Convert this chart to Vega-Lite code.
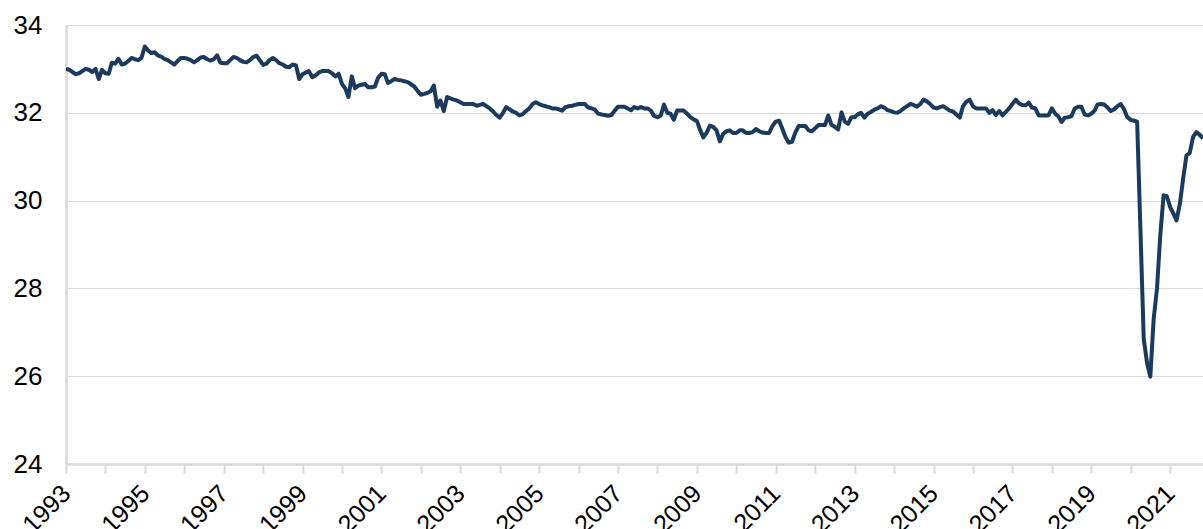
{
  "$schema": "https://vega.github.io/schema/vega-lite/v6.json",
  "autosize": {"type": "none"},
  "padding": {"left": 66, "top": 25, "right": 0, "bottom": 65},
  "width": 1137,
  "height": 439,
  "background": "white",
  "config": {"view": {"stroke": null}, "font": "Liberation Sans"},
  "data": {
    "format": {"parse": {"d": "date:'%Y-%m'"}},
    "values": [
      {"d":"1993-01","v":33.0},{"d":"1993-02","v":32.98},{"d":"1993-03","v":32.93},{"d":"1993-04","v":32.88},{"d":"1993-05","v":32.9},{"d":"1993-06","v":32.95},{"d":"1993-07","v":33.0},{"d":"1993-08","v":32.98},{"d":"1993-09","v":32.93},{"d":"1993-10","v":33.0},{"d":"1993-11","v":32.77},{"d":"1993-12","v":32.98},
      {"d":"1994-01","v":32.9},{"d":"1994-02","v":32.89},{"d":"1994-03","v":33.14},{"d":"1994-04","v":33.12},{"d":"1994-05","v":33.23},{"d":"1994-06","v":33.1},{"d":"1994-07","v":33.12},{"d":"1994-08","v":33.18},{"d":"1994-09","v":33.25},{"d":"1994-10","v":33.22},{"d":"1994-11","v":33.2},{"d":"1994-12","v":33.25},
      {"d":"1995-01","v":33.51},{"d":"1995-02","v":33.42},{"d":"1995-03","v":33.36},{"d":"1995-04","v":33.38},{"d":"1995-05","v":33.31},{"d":"1995-06","v":33.28},{"d":"1995-07","v":33.23},{"d":"1995-08","v":33.2},{"d":"1995-09","v":33.15},{"d":"1995-10","v":33.1},{"d":"1995-11","v":33.18},{"d":"1995-12","v":33.25},
      {"d":"1996-01","v":33.25},{"d":"1996-02","v":33.23},{"d":"1996-03","v":33.2},{"d":"1996-04","v":33.15},{"d":"1996-05","v":33.2},{"d":"1996-06","v":33.26},{"d":"1996-07","v":33.27},{"d":"1996-08","v":33.22},{"d":"1996-09","v":33.19},{"d":"1996-10","v":33.22},{"d":"1996-11","v":33.31},{"d":"1996-12","v":33.14},
      {"d":"1997-01","v":33.13},{"d":"1997-02","v":33.13},{"d":"1997-03","v":33.2},{"d":"1997-04","v":33.27},{"d":"1997-05","v":33.25},{"d":"1997-06","v":33.2},{"d":"1997-07","v":33.16},{"d":"1997-08","v":33.15},{"d":"1997-09","v":33.2},{"d":"1997-10","v":33.27},{"d":"1997-11","v":33.3},{"d":"1997-12","v":33.2},
      {"d":"1998-01","v":33.09},{"d":"1998-02","v":33.12},{"d":"1998-03","v":33.2},{"d":"1998-04","v":33.25},{"d":"1998-05","v":33.2},{"d":"1998-06","v":33.13},{"d":"1998-07","v":33.1},{"d":"1998-08","v":33.05},{"d":"1998-09","v":33.04},{"d":"1998-10","v":33.1},{"d":"1998-11","v":33.08},{"d":"1998-12","v":32.77},
      {"d":"1999-01","v":32.88},{"d":"1999-02","v":32.92},{"d":"1999-03","v":32.95},{"d":"1999-04","v":32.81},{"d":"1999-05","v":32.85},{"d":"1999-06","v":32.92},{"d":"1999-07","v":32.95},{"d":"1999-08","v":32.95},{"d":"1999-09","v":32.95},{"d":"1999-10","v":32.9},{"d":"1999-11","v":32.83},{"d":"1999-12","v":32.89},
      {"d":"2000-01","v":32.66},{"d":"2000-02","v":32.55},{"d":"2000-03","v":32.36},{"d":"2000-04","v":32.83},{"d":"2000-05","v":32.56},{"d":"2000-06","v":32.62},{"d":"2000-07","v":32.64},{"d":"2000-08","v":32.66},{"d":"2000-09","v":32.58},{"d":"2000-10","v":32.58},{"d":"2000-11","v":32.6},{"d":"2000-12","v":32.8},
      {"d":"2001-01","v":32.89},{"d":"2001-02","v":32.88},{"d":"2001-03","v":32.68},{"d":"2001-04","v":32.72},{"d":"2001-05","v":32.77},{"d":"2001-06","v":32.75},{"d":"2001-07","v":32.74},{"d":"2001-08","v":32.72},{"d":"2001-09","v":32.7},{"d":"2001-10","v":32.65},{"d":"2001-11","v":32.6},{"d":"2001-12","v":32.5},
      {"d":"2002-01","v":32.41},{"d":"2002-02","v":32.43},{"d":"2002-03","v":32.45},{"d":"2002-04","v":32.49},{"d":"2002-05","v":32.62},{"d":"2002-06","v":32.14},{"d":"2002-07","v":32.28},{"d":"2002-08","v":32.04},{"d":"2002-09","v":32.36},{"d":"2002-10","v":32.33},{"d":"2002-11","v":32.3},{"d":"2002-12","v":32.28},
      {"d":"2003-01","v":32.24},{"d":"2003-02","v":32.2},{"d":"2003-03","v":32.2},{"d":"2003-04","v":32.2},{"d":"2003-05","v":32.2},{"d":"2003-06","v":32.16},{"d":"2003-07","v":32.18},{"d":"2003-08","v":32.2},{"d":"2003-09","v":32.15},{"d":"2003-10","v":32.1},{"d":"2003-11","v":32.03},{"d":"2003-12","v":31.95},
      {"d":"2004-01","v":31.89},{"d":"2004-02","v":32.0},{"d":"2004-03","v":32.13},{"d":"2004-04","v":32.08},{"d":"2004-05","v":32.03},{"d":"2004-06","v":32.0},{"d":"2004-07","v":31.94},{"d":"2004-08","v":31.97},{"d":"2004-09","v":32.04},{"d":"2004-10","v":32.1},{"d":"2004-11","v":32.2},{"d":"2004-12","v":32.24},
      {"d":"2005-01","v":32.2},{"d":"2005-02","v":32.17},{"d":"2005-03","v":32.15},{"d":"2005-04","v":32.13},{"d":"2005-05","v":32.1},{"d":"2005-06","v":32.1},{"d":"2005-07","v":32.08},{"d":"2005-08","v":32.05},{"d":"2005-09","v":32.13},{"d":"2005-10","v":32.15},{"d":"2005-11","v":32.16},{"d":"2005-12","v":32.18},
      {"d":"2006-01","v":32.2},{"d":"2006-02","v":32.2},{"d":"2006-03","v":32.2},{"d":"2006-04","v":32.12},{"d":"2006-05","v":32.1},{"d":"2006-06","v":32.07},{"d":"2006-07","v":31.98},{"d":"2006-08","v":31.96},{"d":"2006-09","v":31.95},{"d":"2006-10","v":31.93},{"d":"2006-11","v":31.95},{"d":"2006-12","v":32.05},
      {"d":"2007-01","v":32.14},{"d":"2007-02","v":32.14},{"d":"2007-03","v":32.14},{"d":"2007-04","v":32.1},{"d":"2007-05","v":32.06},{"d":"2007-06","v":32.13},{"d":"2007-07","v":32.1},{"d":"2007-08","v":32.13},{"d":"2007-09","v":32.1},{"d":"2007-10","v":32.1},{"d":"2007-11","v":32.05},{"d":"2007-12","v":31.93},
      {"d":"2008-01","v":31.9},{"d":"2008-02","v":31.94},{"d":"2008-03","v":32.19},{"d":"2008-04","v":32.0},{"d":"2008-05","v":31.98},{"d":"2008-06","v":31.84},{"d":"2008-07","v":32.05},{"d":"2008-08","v":32.05},{"d":"2008-09","v":32.05},{"d":"2008-10","v":31.98},{"d":"2008-11","v":31.9},{"d":"2008-12","v":31.85},
      {"d":"2009-01","v":31.81},{"d":"2009-02","v":31.6},{"d":"2009-03","v":31.44},{"d":"2009-04","v":31.55},{"d":"2009-05","v":31.71},{"d":"2009-06","v":31.68},{"d":"2009-07","v":31.6},{"d":"2009-08","v":31.35},{"d":"2009-09","v":31.52},{"d":"2009-10","v":31.58},{"d":"2009-11","v":31.6},{"d":"2009-12","v":31.54},
      {"d":"2010-01","v":31.54},{"d":"2010-02","v":31.6},{"d":"2010-03","v":31.6},{"d":"2010-04","v":31.54},{"d":"2010-05","v":31.54},{"d":"2010-06","v":31.56},{"d":"2010-07","v":31.63},{"d":"2010-08","v":31.58},{"d":"2010-09","v":31.55},{"d":"2010-10","v":31.54},{"d":"2010-11","v":31.54},{"d":"2010-12","v":31.7},
      {"d":"2011-01","v":31.8},{"d":"2011-02","v":31.82},{"d":"2011-03","v":31.65},{"d":"2011-04","v":31.45},{"d":"2011-05","v":31.32},{"d":"2011-06","v":31.34},{"d":"2011-07","v":31.55},{"d":"2011-08","v":31.7},{"d":"2011-09","v":31.7},{"d":"2011-10","v":31.7},{"d":"2011-11","v":31.6},{"d":"2011-12","v":31.58},
      {"d":"2012-01","v":31.65},{"d":"2012-02","v":31.72},{"d":"2012-03","v":31.72},{"d":"2012-04","v":31.72},{"d":"2012-05","v":31.94},{"d":"2012-06","v":31.72},{"d":"2012-07","v":31.68},{"d":"2012-08","v":31.62},{"d":"2012-09","v":32.01},{"d":"2012-10","v":31.8},{"d":"2012-11","v":31.75},{"d":"2012-12","v":31.9},
      {"d":"2013-01","v":31.9},{"d":"2013-02","v":31.97},{"d":"2013-03","v":32.0},{"d":"2013-04","v":31.89},{"d":"2013-05","v":31.98},{"d":"2013-06","v":32.02},{"d":"2013-07","v":32.07},{"d":"2013-08","v":32.1},{"d":"2013-09","v":32.15},{"d":"2013-10","v":32.12},{"d":"2013-11","v":32.06},{"d":"2013-12","v":32.04},
      {"d":"2014-01","v":32.01},{"d":"2014-02","v":32.0},{"d":"2014-03","v":32.04},{"d":"2014-04","v":32.1},{"d":"2014-05","v":32.15},{"d":"2014-06","v":32.2},{"d":"2014-07","v":32.18},{"d":"2014-08","v":32.14},{"d":"2014-09","v":32.2},{"d":"2014-10","v":32.3},{"d":"2014-11","v":32.26},{"d":"2014-12","v":32.2},
      {"d":"2015-01","v":32.12},{"d":"2015-02","v":32.1},{"d":"2015-03","v":32.13},{"d":"2015-04","v":32.15},{"d":"2015-05","v":32.1},{"d":"2015-06","v":32.05},{"d":"2015-07","v":32.03},{"d":"2015-08","v":31.96},{"d":"2015-09","v":31.89},{"d":"2015-10","v":32.15},{"d":"2015-11","v":32.25},{"d":"2015-12","v":32.3},
      {"d":"2016-01","v":32.15},{"d":"2016-02","v":32.1},{"d":"2016-03","v":32.1},{"d":"2016-04","v":32.1},{"d":"2016-05","v":32.1},{"d":"2016-06","v":32.0},{"d":"2016-07","v":32.06},{"d":"2016-08","v":31.95},{"d":"2016-09","v":32.04},{"d":"2016-10","v":31.94},{"d":"2016-11","v":32.02},{"d":"2016-12","v":32.1},
      {"d":"2017-01","v":32.2},{"d":"2017-02","v":32.3},{"d":"2017-03","v":32.22},{"d":"2017-04","v":32.18},{"d":"2017-05","v":32.17},{"d":"2017-06","v":32.23},{"d":"2017-07","v":32.12},{"d":"2017-08","v":32.1},{"d":"2017-09","v":31.94},{"d":"2017-10","v":31.94},{"d":"2017-11","v":31.94},{"d":"2017-12","v":31.94},
      {"d":"2018-01","v":32.1},{"d":"2018-02","v":31.98},{"d":"2018-03","v":31.92},{"d":"2018-04","v":31.79},{"d":"2018-05","v":31.89},{"d":"2018-06","v":31.9},{"d":"2018-07","v":31.92},{"d":"2018-08","v":32.1},{"d":"2018-09","v":32.14},{"d":"2018-10","v":32.14},{"d":"2018-11","v":31.96},{"d":"2018-12","v":31.94},
      {"d":"2019-01","v":31.98},{"d":"2019-02","v":32.05},{"d":"2019-03","v":32.19},{"d":"2019-04","v":32.2},{"d":"2019-05","v":32.19},{"d":"2019-06","v":32.12},{"d":"2019-07","v":32.04},{"d":"2019-08","v":32.08},{"d":"2019-09","v":32.15},{"d":"2019-10","v":32.2},{"d":"2019-11","v":32.08},{"d":"2019-12","v":31.9},
      {"d":"2020-01","v":31.84},{"d":"2020-02","v":31.82},{"d":"2020-03","v":31.8},{"d":"2020-04","v":29.3},{"d":"2020-05","v":26.85},{"d":"2020-06","v":26.3},{"d":"2020-07","v":25.99},{"d":"2020-08","v":27.3},{"d":"2020-09","v":28.0},{"d":"2020-10","v":29.2},{"d":"2020-11","v":30.12},{"d":"2020-12","v":30.1},
      {"d":"2021-01","v":29.85},{"d":"2021-02","v":29.7},{"d":"2021-03","v":29.55},{"d":"2021-04","v":29.93},{"d":"2021-05","v":30.5},{"d":"2021-06","v":31.03},{"d":"2021-07","v":31.08},{"d":"2021-08","v":31.45},{"d":"2021-09","v":31.56},{"d":"2021-10","v":31.5},{"d":"2021-11","v":31.42}
    ]
  },
  "mark": {"type": "line", "color": "#1c3a5e", "strokeWidth": 4, "strokeJoin": "round", "clip": true},
  "encoding": {
    "x": {
      "field": "d",
      "type": "temporal",
      "title": null,
      "scale": {"domain": [{"year": 1993, "month": 1, "date": 1}, {"year": 2021, "month": 11, "date": 1}], "nice": false},
      "axis": {
        "tickCount": {"interval": "year", "step": 1},
        "labelExpr": "year(datum.value) % 2 == 1 ? timeFormat(datum.value, '%Y') : ''",
        "labelOverlap": false,
        "labelAngle": -45,
        "labelAlign": "right",
        "labelBaseline": "middle",
        "labelPadding": 16,
        "labelDx": 3,
        "labelFontSize": 25,
        "labelColor": "#000000",
        "labelFont": "Liberation Sans",
        "grid": false,
        "domainColor": "#d9d9d9",
        "domainWidth": 2.5,
        "tickColor": "#d9d9d9",
        "tickWidth": 2,
        "tickSize": 9,
        "labelFlush": false
      }
    },
    "y": {
      "field": "v",
      "type": "quantitative",
      "title": null,
      "scale": {"domain": [24, 34], "nice": false, "zero": false},
      "axis": {
        "values": [24, 26, 28, 30, 32, 34],
        "ticks": false,
        "labelPadding": 24,
        "labelFontSize": 26,
        "labelColor": "#000000",
        "labelFont": "Liberation Sans",
        "grid": true,
        "gridColor": "#d9d9d9",
        "gridWidth": 1,
        "domainColor": "#d9d9d9",
        "domainWidth": 2.5
      }
    }
  }
}
